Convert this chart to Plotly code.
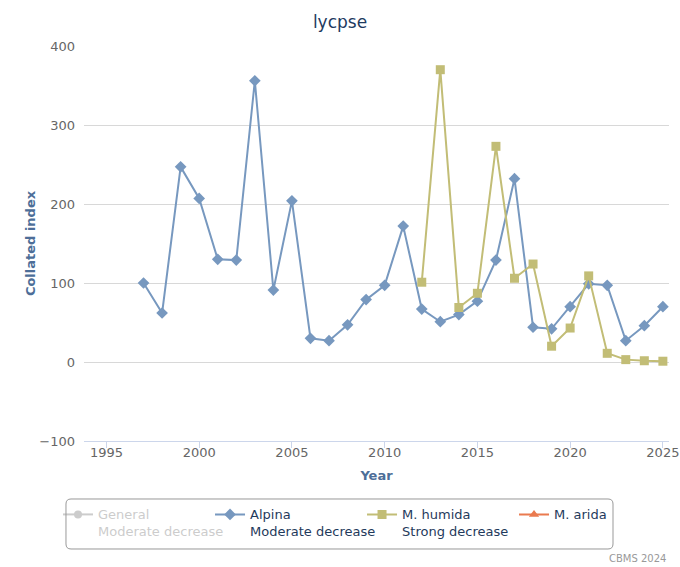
import plotly.graph_objects as go

years_alpina = list(range(1997, 2026))
alpina = [100, 62, 247, 207, 130, 129, 356, 91, 204, 30, 27, 47, 79, 97, 172,
          67, 51, 60, 77, 129, 232, 44, 42, 70, 99, 97, 27, 46, 70]

years_humida = list(range(2012, 2026))
humida = [101, 370, 69, 87, 273, 106, 124, 20, 43, 109, 11, 3, 1.6, 1]

general_years = [None]
general = [None]
arida_years = [None]
arida = [None]

names = {
    "general": "<span style='color:#999999'>General<br>Moderate decrease</span>",
    "alpina": "Alpina<br>Moderate decrease",
    "humida": "M. humida<br>Strong decrease",
    "arida": "M. arida",
}

fig = go.Figure()
fig.add_trace(go.Scatter(
    x=general_years, y=general, name=names["general"], mode="lines+markers",
    visible="legendonly",
    line=dict(color="#999999", width=2),
    marker=dict(symbol="circle", size=8, color="#999999"),
))
fig.add_trace(go.Scatter(
    x=years_alpina, y=alpina, name=names["alpina"], mode="lines+markers",
    line=dict(color="#7798BF", width=2),
    marker=dict(symbol="diamond", size=9, color="#7798BF"),
))
fig.add_trace(go.Scatter(
    x=years_humida, y=humida, name=names["humida"], mode="lines+markers",
    line=dict(color="#C2BD76", width=2),
    marker=dict(symbol="square", size=9, color="#C2BD76"),
))
fig.add_trace(go.Scatter(
    x=arida_years, y=arida, name=names["arida"], mode="lines+markers",
    line=dict(color="#EA7A4F", width=2),
    marker=dict(symbol="triangle-up", size=9, color="#EA7A4F"),
))

# rounded legend frame (paper coordinates)
x0, x1, y0, y1 = -0.0308, 0.9043, -0.2734, -0.1468
rx, ry = 0.0086, 0.0127
frame = (f"M {x0+rx} {y1} L {x1-rx} {y1} Q {x1} {y1} {x1} {y1-ry} "
         f"L {x1} {y0+ry} Q {x1} {y0} {x1-rx} {y0} L {x0+rx} {y0} "
         f"Q {x0} {y0} {x0} {y0+ry} L {x0} {y1-ry} Q {x0} {y1} {x0+rx} {y1} Z")

fig.update_layout(
    width=680, height=567,
    margin=dict(l=84, r=11, t=46, b=126),
    paper_bgcolor="white", plot_bgcolor="white",
    font=dict(family="DejaVu Sans", size=13, color="#666666"),
    title=dict(text="lycpse", x=0.5, xanchor="center", y=0.961, yanchor="middle",
               font=dict(size=17, color="#1E3A5F", family="DejaVu Sans")),
    showlegend=True,
    legend=dict(
        orientation="h", x=-0.0444, xanchor="left", y=-0.148, yanchor="top",
        borderwidth=0, bgcolor="rgba(0,0,0,0)",
        font=dict(size=13, color="#1F3A5C"),
        entrywidth=107, entrywidthmode="pixels",
        valign="top", itemwidth=30, itemclick=False, itemdoubleclick=False,
    ),
    shapes=[dict(type="path", path=frame, xref="paper", yref="paper",
                 line=dict(color="#999999", width=1), fillcolor="rgba(0,0,0,0)",
                 layer="above")],
    annotations=[dict(
        text="CBMS 2024", xref="paper", yref="paper", x=0.998, y=-0.297,
        xanchor="right", yanchor="middle", showarrow=False,
        font=dict(size=10, color="#999999"),
    )],
)

fig.update_xaxes(
    range=[1993.79, 2025.33], tick0=1995, dtick=5, automargin=False,
    showgrid=False, zeroline=False,
    showline=True, linecolor="#CCD6EB", linewidth=1,
    ticks="outside", ticklen=6, tickcolor="#CCD6EB",
    ticklabelstandoff=-7,
    tickfont=dict(size=13, color="#666666"),
    title=dict(text="<b>Year</b>", font=dict(size=13, color="#4D6E98"), standoff=12),
)
fig.update_yaxes(
    range=[-100, 400], tick0=0, dtick=100, automargin=False,
    showgrid=True, gridcolor="#D8D8D8", gridwidth=1,
    zeroline=False, showline=False, ticks="",
    ticklabelstandoff=8,
    tickfont=dict(size=13, color="#666666"),
    title=dict(text="<b>Collated index</b>", font=dict(size=13, color="#4D6E98"), standoff=0),
)

fig.write_html(
    "out.html",
    config={"displayModeBar": False},
    post_script="document.body.style.margin='0';"
                "document.documentElement.style.overflow='hidden';",
)
